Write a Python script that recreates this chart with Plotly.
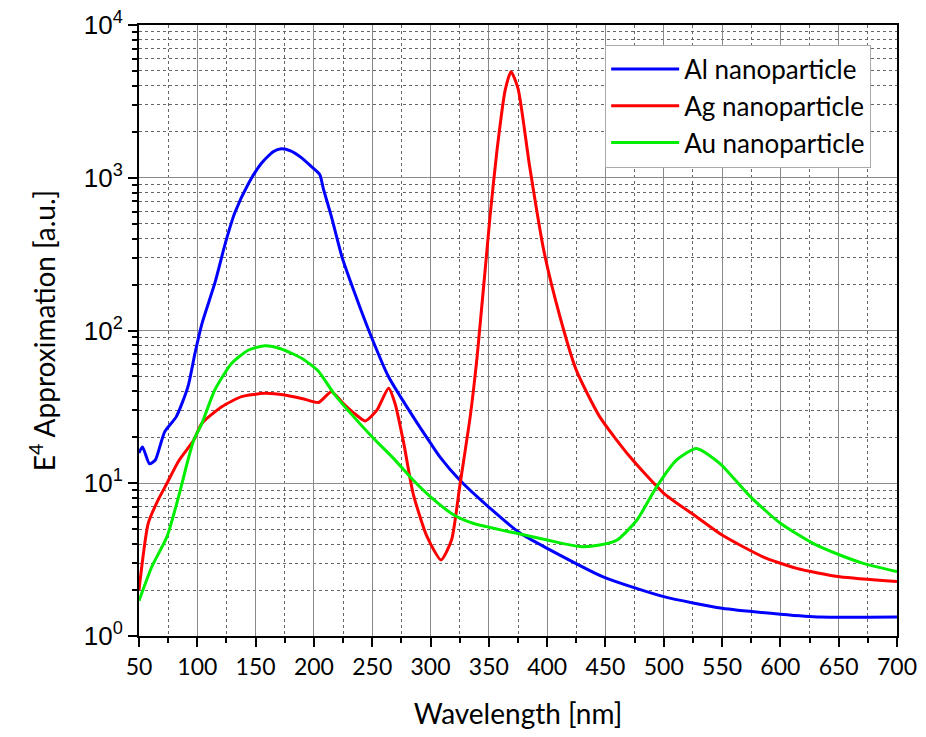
import plotly.graph_objects as go

# Al nanoparticle
al_x = [50, 53, 59, 64, 68, 72, 82, 92, 98, 104, 115, 124, 132, 144, 155, 165, 172, 180, 190, 198, 205, 208, 215, 224, 234, 248, 264, 285, 300, 308, 325, 348, 377, 400, 448, 500, 550, 600, 634, 700]
al_y = [15.8, 17.3, 13.4, 14.2, 17.5, 21.7, 27.3, 42.9, 71, 111, 204, 372, 585, 920, 1245, 1480, 1550, 1500, 1340, 1180, 1050, 853, 556, 304, 184, 96, 49.8, 27.3, 18.3, 14.9, 10.5, 7.2, 4.7, 3.75, 2.44, 1.81, 1.52, 1.39, 1.33, 1.33]

# Ag nanoparticle
ag_x = [50, 58, 66.5, 74, 84, 97, 104, 121, 138, 158, 175, 192, 204, 215, 225, 235, 244, 254, 264, 269.5, 277, 285, 297, 309, 318, 325, 334, 340, 351, 357, 364, 369, 375, 385, 397, 411, 425, 445, 471, 500, 528, 550, 585, 614, 651, 700]
ag_y = [2.0, 5.5, 7.8, 10.0, 14.0, 19.2, 24.7, 31.7, 36.9, 38.8, 37.8, 35.5, 33.8, 39.7, 33.4, 28.5, 25.6, 30.1, 41.9, 33.4, 18.3, 8.6, 4.47, 3.15, 4.25, 9.5, 27.3, 68, 556, 1515, 3750, 4945, 3850, 1183, 337, 123, 55, 27.3, 14.9, 8.6, 6.04, 4.58, 3.3, 2.77, 2.44, 2.27]

# Au nanoparticle
au_x = [50, 61, 74, 84, 92, 97, 104, 115, 129.5, 144, 158, 172, 189.5, 203.5, 217, 234, 251, 268, 285, 302, 320, 337, 348, 360, 374, 400, 428, 445, 460, 477, 494, 511, 528, 548, 574, 600, 628, 651, 671, 700]
au_y = [1.7, 2.84, 4.47, 8.2, 14.2, 19.2, 24.7, 40.8, 61, 74.5, 79.5, 75.7, 65.8, 54.5, 38.8, 27.3, 19.7, 14.6, 10.5, 7.9, 6.2, 5.45, 5.2, 4.95, 4.7, 4.25, 3.85, 3.94, 4.25, 5.75, 9.5, 14.2, 16.9, 13.5, 8.2, 5.47, 4.04, 3.39, 2.99, 2.64]

x_ticks = list(range(50, 701, 50))
y_ticks = [1, 10, 100, 1000, 10000]
y_tick_text = ["10<sup>0</sup>", "10<sup>1</sup>", "10<sup>2</sup>", "10<sup>3</sup>", "10<sup>4</sup>"]

fig = go.Figure()
for xs, ys, nm, col in [(al_x, al_y, "Al nanoparticle", "#0000ff"),
                        (ag_x, ag_y, "Ag nanoparticle", "#ff0000"),
                        (au_x, au_y, "Au nanoparticle", "#00ee00")]:
    fig.add_trace(go.Scatter(x=xs, y=ys, mode="lines", name=nm,
                             line=dict(color=col, width=3, shape="spline", smoothing=0.6)))

calibri = "Lato, 'Open Sans', sans-serif"
arial = "'Liberation Sans', Arial, sans-serif"

fig.update_layout(
    width=926, height=737,
    margin=dict(l=139, r=29, t=25, b=101),
    paper_bgcolor="white", plot_bgcolor="white",
    showlegend=True,
    legend=dict(x=0.615, y=0.968, xanchor="left", yanchor="top",
                bgcolor="white", bordercolor="#aaaaaa", borderwidth=1,
                font=dict(family=calibri, size=26, color="black"),
                tracegroupgap=0, itemwidth=68),
    xaxis=dict(
        range=[50, 700], tickvals=x_ticks, automargin=False,
        showline=True, linecolor="black", linewidth=2, mirror=True,
        ticks="outside", ticklen=9, tickwidth=2, tickcolor="black",
        showgrid=True, gridcolor="#8a8a8a", gridwidth=1,
        tickfont=dict(family=calibri, size=23, color="black"),
        title=dict(text="Wavelength [nm]", font=dict(family=calibri, size=28, color="black"), standoff=26),
        minor=dict(dtick=25, ticks="outside", ticklen=5, tickwidth=2, tickcolor="black",
                   showgrid=True, gridcolor="#666666", gridwidth=1, griddash="dot"),
        zeroline=False,
    ),
    yaxis=dict(
        type="log", range=[0, 4], tickvals=y_ticks, ticktext=y_tick_text, automargin=False,
        showline=True, linecolor="black", linewidth=2, mirror=True,
        ticks="outside", ticklen=9, tickwidth=2, tickcolor="black",
        showgrid=True, gridcolor="#8a8a8a", gridwidth=1,
        tickfont=dict(family=arial, size=26, color="black"),
        title=dict(text="E<sup>4</sup> Approximation [a.u.]", font=dict(family=calibri, size=28, color="black"), standoff=20),
        minor=dict(dtick="D1", ticks="outside", ticklen=5, tickwidth=2, tickcolor="black",
                   showgrid=True, gridcolor="#666666", gridwidth=1, griddash="dot"),
        zeroline=False,
    ),
)

fig.write_html("out.html")
